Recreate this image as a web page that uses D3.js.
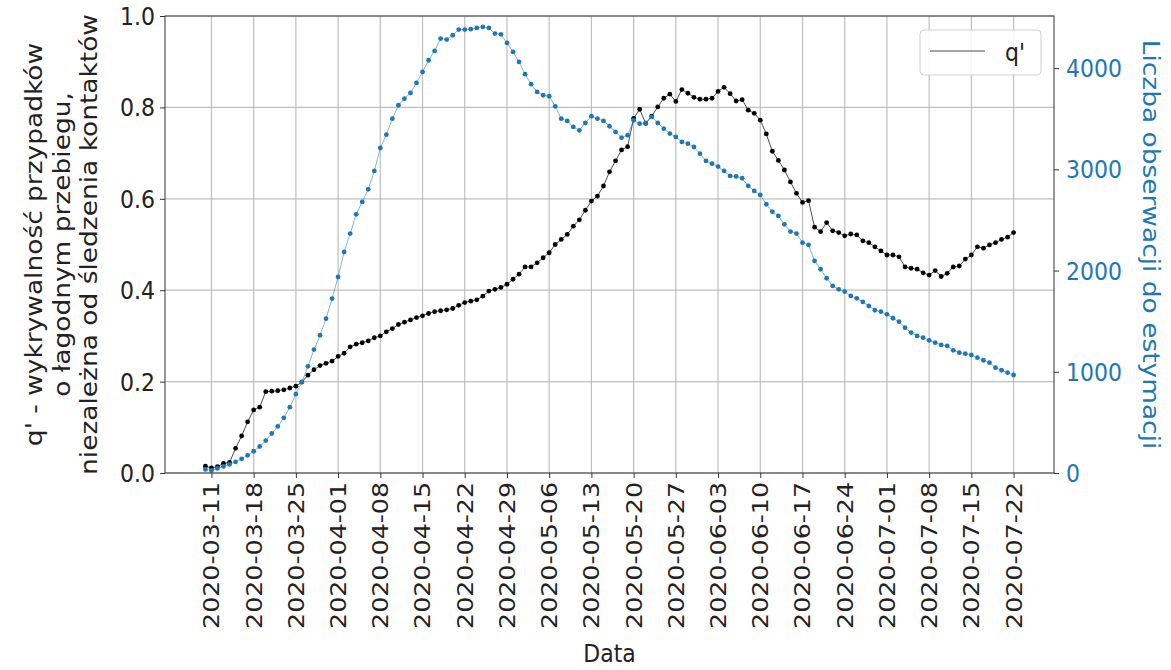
<!DOCTYPE html>
<html><head><meta charset="utf-8">
<script src="https://cdn.jsdelivr.net/npm/d3@7"></script>
<style>
html,body{margin:0;padding:0;background:#fff;}
svg{display:block;font-family:"DejaVu Sans",sans-serif;}
</style></head>
<body>
<svg id="c" width="1171" height="670"></svg>
<script>
// ---- data ----
const startDate = "2020-03-10"; // first observation, one value per day
const qValues = [0.015,0.011,0.014,0.021,0.023,0.054,0.081,0.112,0.138,0.144,
0.178,0.179,0.180,0.182,0.186,0.190,0.199,0.214,0.226,0.235,
0.240,0.245,0.255,0.262,0.276,0.282,0.285,0.289,0.296,0.300,
0.309,0.316,0.325,0.330,0.335,0.340,0.344,0.349,0.353,0.355,
0.357,0.360,0.367,0.373,0.376,0.379,0.387,0.398,0.402,0.406,
0.413,0.424,0.435,0.451,0.451,0.460,0.471,0.482,0.500,0.511,
0.522,0.540,0.554,0.575,0.595,0.606,0.628,0.659,0.683,0.707,
0.714,0.776,0.796,0.765,0.781,0.801,0.820,0.829,0.813,0.839,
0.831,0.822,0.818,0.818,0.820,0.835,0.844,0.830,0.814,0.817,
0.794,0.787,0.772,0.742,0.704,0.684,0.663,0.637,0.612,0.592,
0.596,0.538,0.528,0.548,0.530,0.526,0.519,0.523,0.521,0.508,
0.504,0.495,0.486,0.477,0.477,0.473,0.451,0.448,0.446,0.438,
0.433,0.443,0.430,0.437,0.451,0.453,0.468,0.477,0.495,0.492,
0.499,0.504,0.511,0.516,0.526];
const nValues = [35,25,45,65,85,110,140,175,215,262,
320,390,460,545,650,780,899,1054,1219,1361,
1525,1723,1937,2184,2365,2556,2678,2803,2984,3211,
3343,3501,3633,3698,3755,3854,3962,4078,4170,4292,
4282,4325,4381,4381,4385,4397,4407,4397,4341,4334,
4249,4160,4061,3940,3841,3765,3732,3722,3623,3501,
3478,3419,3386,3458,3525,3501,3478,3426,3370,3313,
3337,3485,3451,3458,3518,3458,3402,3353,3320,3271,
3254,3221,3155,3083,3056,3027,2984,2935,2930,2912,
2836,2787,2747,2655,2582,2540,2457,2385,2365,2276,
2253,2095,2013,1924,1848,1815,1792,1749,1726,1690,
1650,1608,1594,1568,1529,1495,1436,1387,1354,1337,
1311,1288,1265,1255,1212,1189,1179,1166,1139,1114,
1090,1041,1015,991,968];
const xTickLabels = ["2020-03-11","2020-03-18","2020-03-25","2020-04-01","2020-04-08","2020-04-15","2020-04-22","2020-04-29","2020-05-06","2020-05-13","2020-05-20","2020-05-27","2020-06-03","2020-06-10","2020-06-17","2020-06-24","2020-07-01","2020-07-08","2020-07-15","2020-07-22"];
const leftTicks = [0.0,0.2,0.4,0.6,0.8,1.0];
const rightTicks = [0,1000,2000,3000,4000];
const leftLabelLines = ["q' - wykrywalność przypadków","o łagodnym przebiegu,","niezależna od śledzenia kontaktów"];
const rightLabel = "Liczba obserwacji do estymacji";
const xLabel = "Data";
const legendLabel = "q'";

// ---- build ----
const parse = d3.utcParse("%Y-%m-%d");
const d0 = parse(startDate);
const dates = qValues.map((_, i) => d3.utcDay.offset(d0, i));
const rows = dates.map((d, i) => ({date: d, q: qValues[i], n: nValues[i]}));

const L = 165, R = 1054, T = 16, B = 473;
const x0 = dates[0], x1 = dates[dates.length - 1];
const pad = (x1 - x0) * 0.05;
const x = d3.scaleUtc().domain([new Date(+x0 - pad), new Date(+x1 + pad)]).range([L, R]);
const yL = d3.scaleLinear().domain([0, 1]).range([B, T]);
const yR = d3.scaleLinear().domain([0, 4515]).range([B, T]);

const svg = d3.select("#c");
const blue = "#1f77b4";
const FS = 22;
const SY = 1.15; // the reference is stretched vertically

// grid
const g = svg.append("g");
const xTicks = xTickLabels.map(parse);
g.selectAll(".vg").data(xTicks).join("line")
  .attr("x1", d => x(d)).attr("x2", d => x(d)).attr("y1", T).attr("y2", B)
  .attr("stroke", "#b0b0b0").attr("stroke-width", 1.2).attr("opacity", 0.8);
g.selectAll(".hg").data(leftTicks).join("line")
  .attr("x1", L).attr("x2", R).attr("y1", d => yL(d)).attr("y2", d => yL(d))
  .attr("stroke", "#b0b0b0").attr("stroke-width", 1.2).attr("opacity", 0.8);

// q series (left axis)
const lineQ = d3.line().x(d => x(d.date)).y(d => yL(d.q));
svg.append("path").datum(rows).attr("d", lineQ).attr("fill", "none")
  .attr("stroke", "#000").attr("stroke-width", 0.7);
svg.append("g").selectAll("circle").data(rows).join("circle")
  .attr("cx", d => x(d.date)).attr("cy", d => yL(d.q)).attr("r", 2.4).attr("fill", "#000");

// n series (right axis)
const lineN = d3.line().x(d => x(d.date)).y(d => yR(d.n));
svg.append("path").datum(rows).attr("d", lineN).attr("fill", "none")
  .attr("stroke", blue).attr("stroke-width", 0.7).attr("opacity", 0.8);
svg.append("g").selectAll("circle").data(rows).join("circle")
  .attr("cx", d => x(d.date)).attr("cy", d => yR(d.n)).attr("r", 2.4).attr("fill", blue);

// axes
const axL = d3.axisLeft(yL).tickValues(leftTicks).tickFormat(d3.format(".1f")).tickSize(5).tickPadding(5);
const gl = svg.append("g").attr("transform", `translate(${L},0)`).call(axL);
const axR = d3.axisRight(yR).tickValues(rightTicks).tickFormat(d3.format("d")).tickSize(5).tickPadding(7);
const gr = svg.append("g").attr("transform", `translate(${R},0)`).call(axR);
const axB = d3.axisBottom(x).tickValues(xTicks).tickFormat(d3.utcFormat("%Y-%m-%d")).tickSize(5);
const gb = svg.append("g").attr("transform", `translate(0,${B})`).call(axB);

[gl, gr, gb].forEach(a => {
  a.select(".domain").remove();
  a.selectAll(".tick line").attr("stroke", "#333").attr("stroke-width", 1);
  a.selectAll("text").attr("font-size", FS).attr("font-family", "DejaVu Sans");
});
gl.selectAll("text").attr("fill", "#222").attr("dy", null)
  .attr("dominant-baseline", "central").attr("transform", `scale(1,${SY})`).attr("y", 0);
gr.selectAll("text").attr("fill", blue).attr("dy", null)
  .attr("dominant-baseline", "central").attr("transform", `scale(1,${SY})`).attr("y", 0);
gb.selectAll("text").attr("fill", "#222")
  .attr("transform", `rotate(-90) scale(${SY},1)`).attr("text-anchor", "end")
  .attr("x", -9 / SY).attr("y", 0).attr("dy", null).attr("dominant-baseline", "central");

// frame
svg.append("rect").attr("x", L).attr("y", T).attr("width", R - L).attr("height", B - T)
  .attr("fill", "none").attr("stroke", "#333").attr("stroke-width", 1);

// labels
const lbl = svg.append("g").attr("font-size", 23).attr("fill", "#222");
const lineXs = [34, 62, 89];
leftLabelLines.forEach((t, i) => {
  lbl.append("text").attr("transform", `translate(${lineXs[i]},${(T + B) / 2}) rotate(-90) scale(${SY},1)`)
    .attr("text-anchor", "middle").attr("dominant-baseline", "central").text(t);
});
svg.append("text").attr("transform", `translate(1151,${(T + B) / 2}) rotate(90) scale(${SY},1)`)
  .attr("text-anchor", "middle").attr("dominant-baseline", "central")
  .attr("font-size", 23).attr("fill", blue).text(rightLabel);
svg.append("text").attr("transform", `translate(${(L + R) / 2},653) scale(1,${SY})`)
  .attr("text-anchor", "middle").attr("dominant-baseline", "central")
  .attr("font-size", 22).attr("fill", "#222").text(xLabel);

// legend
const lg = svg.append("g");
lg.append("rect").attr("x", 920).attr("y", 30).attr("width", 121).attr("height", 45).attr("rx", 4)
  .attr("fill", "#fff").attr("fill-opacity", 0.85).attr("stroke", "#d0d0d0");
lg.append("line").attr("x1", 930).attr("x2", 985).attr("y1", 51).attr("y2", 51)
  .attr("stroke", "#000").attr("stroke-width", 0.7);
lg.append("text").attr("transform", `translate(1005,52) scale(1,${SY})`).attr("dominant-baseline", "central")
  .attr("font-size", FS).attr("fill", "#222").text(legendLabel);
</script>
</body></html>
